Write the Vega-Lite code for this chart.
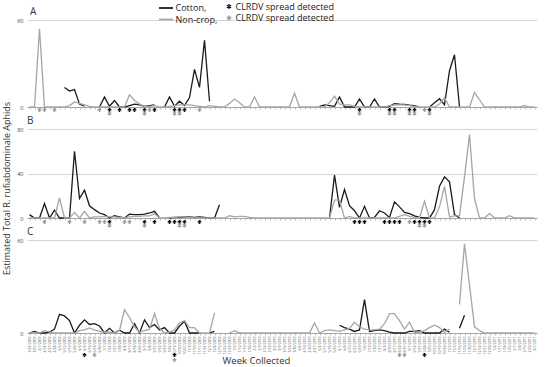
{
"$schema": "https://vega.github.io/schema/vega-lite/v6.json",
"padding": {"left": 2, "top": 2, "right": 5, "bottom": 2},
"bounds": "flush",
"spacing": 22,
"config": {
  "font": "Open Sans",
  "view": {"stroke": null},
  "axisY": {"grid": true, "gridColor": "#d4d4d4", "gridWidth": 1, "gridOpacity": 1, "domain": false, "ticks": false, "labelFontSize": 5.5, "labelColor": "#444", "labelPadding": 4, "labelOverlap": false, "labelBound": false, "labelFlush": false},
  "axisX": {"grid": false, "domainColor": "#9a9a9a", "domainWidth": 0.8, "tickColor": "#9a9a9a", "tickSize": 2, "tickWidth": 0.6},
  "legend": {"padding": 0, "labelFont": "Open Sans", "labelFontSize": 9, "labelColor": "#222"},
  "title": {"anchor": "start", "frame": "group", "fontSize": 10, "fontWeight": "normal", "color": "#333", "offset": 1}
},
"datasets": {
"weeks": [
{"w":"2009-03-24","An":0,"Bc":3,"Bn":0,"Cc":0,"Cn":0},
{"w":"2009-03-31","An":0,"Bc":0,"Bn":0,"Cc":1,"Cn":0},
{"w":"2009-04-07","An":54,"Bc":0,"Bn":0,"Cc":0,"Cn":0},
{"w":"2009-04-14","An":0,"Bc":13,"Bn":0,"Cc":0,"Cn":1.5},
{"w":"2009-04-21","An":0,"Bc":0,"Bn":0,"Cc":0.5,"Cn":0.5},
{"w":"2009-04-28","An":0,"Bc":7,"Bn":0,"Cc":2.5,"Cn":0},
{"w":"2009-05-05","An":0,"Bc":0,"Bn":18,"Cc":12,"Cn":0},
{"w":"2009-05-12","Ac":13.5,"An":0,"Bc":0,"Bn":0,"Cc":11,"Cn":0},
{"w":"2009-05-19","Ac":11,"An":1,"Bc":0,"Bn":0,"Cc":8,"Cn":0},
{"w":"2009-05-26","Ac":12,"An":3.5,"Bc":60,"Bn":5,"Cc":0,"Cn":0},
{"w":"2009-06-02","Ac":2,"An":2.5,"Bc":17.5,"Bn":0,"Cc":5,"Cn":1.5},
{"w":"2009-06-09","Ac":0.5,"An":1.5,"Bc":25,"Bn":6,"Cc":8.5,"Cn":2},
{"w":"2009-06-16","An":0.5,"Bc":11,"Bn":0,"Cc":5.5,"Cn":3.3},
{"w":"2009-06-23","An":0,"Bc":7.5,"Bn":1,"Cc":6,"Cn":2},
{"w":"2009-06-30","Ac":0,"An":0,"Bc":4.5,"Bn":1,"Cc":4.5,"Cn":1},
{"w":"2009-07-07","Ac":7,"An":0,"Bc":3,"Bn":1.5,"Cc":0,"Cn":0.5},
{"w":"2009-07-14","Ac":0.5,"An":0,"Bc":0,"Bn":1,"Cc":3,"Cn":0.5},
{"w":"2009-07-21","Ac":4.5,"An":0,"Bc":2,"Bn":1,"Cc":0,"Cn":0},
{"w":"2009-07-28","Ac":0,"An":0,"Bc":1,"Bn":0.5,"Cc":1.8,"Cn":1.5},
{"w":"2009-08-04","Ac":0,"An":0,"Bc":0,"Bn":0,"Cc":0,"Cn":15},
{"w":"2009-08-11","Ac":1,"An":8.5,"Bc":3.5,"Bn":1,"Cc":0,"Cn":10},
{"w":"2009-08-18","Ac":2,"An":4.5,"Bc":3,"Bn":1.5,"Cc":6,"Cn":4},
{"w":"2009-08-25","Ac":1.5,"An":2,"Bc":3,"Bn":1.5,"Cc":0,"Cn":0.5},
{"w":"2009-09-01","Ac":0.5,"An":0.5,"Bc":3.5,"Bn":2,"Cc":8.5,"Cn":1.5},
{"w":"2009-09-08","Ac":1,"An":0.5,"Bc":4.5,"Bn":2,"Cc":3.5,"Cn":2.5},
{"w":"2009-09-15","Ac":1.5,"An":1,"Bc":6,"Bn":4,"Cc":5.5,"Cn":12.5},
{"w":"2009-09-22","An":0,"Bc":0,"Bn":0,"Cc":2,"Cn":3},
{"w":"2009-09-29","Ac":0,"An":0,"Bn":0,"Cc":3.5,"Cn":0},
{"w":"2009-10-06","Ac":7,"An":0.5,"Bc":0,"Bn":0.5,"Cc":0,"Cn":0.5},
{"w":"2009-10-13","Ac":0.5,"An":1,"Bc":0.5,"Bn":0.5,"Cc":0,"Cn":2},
{"w":"2009-10-20","Ac":4,"An":1.5,"Bc":0.5,"Bn":1,"Cc":4.5,"Cn":6.5},
{"w":"2009-10-27","Ac":1,"An":1.5,"Bc":1,"Bn":1,"Cc":7.5,"Cn":8},
{"w":"2009-11-03","Ac":6.5,"An":1.5,"Bc":1,"Bn":0.5,"Cc":0,"Cn":3.5},
{"w":"2009-11-10","Ac":26,"An":1,"Bc":0.5,"Bn":0,"Cc":0,"Cn":3.5},
{"w":"2009-11-17","Ac":13.5,"An":0.5,"Bc":1,"Bn":0,"Cc":0,"Cn":0},
{"w":"2009-11-24","Ac":46,"An":0,"Bc":0.5,"Bn":0,"Cn":0},
{"w":"2009-12-01","Ac":4,"An":1,"Bc":0,"Bn":0,"Cc":0,"Cn":0},
{"w":"2009-12-08","An":0.5,"Bc":0,"Bn":0,"Cc":1,"Cn":13},
{"w":"2009-12-15","An":0,"Bc":12,"Bn":0},
{"w":"2009-12-22","An":0,"Bn":0},
{"w":"2009-12-29","An":2.5,"Bn":2,"Cn":0},
{"w":"2010-01-05","An":5.5,"Bn":1,"Cn":1.5},
{"w":"2010-01-12","An":3,"Bn":1.5,"Cn":0},
{"w":"2010-01-19","An":0,"Bn":1.5,"Cn":0},
{"w":"2010-01-26","An":0,"Bn":0.5,"Cn":0},
{"w":"2010-02-02","An":7,"Bn":0,"Cn":0},
{"w":"2010-02-09","An":0,"Bn":0,"Cn":0},
{"w":"2010-02-16","An":0,"Bn":0,"Cn":0},
{"w":"2010-02-23","An":0,"Bn":0,"Cn":0},
{"w":"2010-03-02","An":0,"Bn":0,"Cn":0},
{"w":"2010-03-09","An":0,"Bn":0,"Cn":0},
{"w":"2010-03-16","An":0,"Bn":0,"Cn":0},
{"w":"2010-03-23","An":0,"Bn":0,"Cn":0},
{"w":"2010-03-30","An":9.5,"Bn":0,"Cn":0},
{"w":"2010-04-06","An":0,"Bn":0,"Cn":0},
{"w":"2010-04-13","An":0,"Bn":0,"Cn":0},
{"w":"2010-04-20","An":0,"Bn":0,"Cn":0},
{"w":"2010-04-27","An":0,"Bn":0,"Cn":6.5},
{"w":"2010-05-04","Ac":0.5,"An":0,"Bn":0,"Cn":0},
{"w":"2010-05-11","Ac":1.5,"An":0,"Bn":0,"Cn":1.5},
{"w":"2010-05-18","Ac":1,"An":3,"Bc":0,"Bn":0,"Cn":2},
{"w":"2010-05-25","Ac":0.5,"An":7.5,"Bc":38.5,"Bn":16,"Cn":1.5},
{"w":"2010-06-01","Ac":7,"An":2,"Bc":9.5,"Bn":16,"Cc":5,"Cn":1},
{"w":"2010-06-08","Ac":0,"An":1.5,"Bc":25.5,"Bn":0,"Cc":3.5,"Cn":2},
{"w":"2010-06-15","Ac":0,"An":1.5,"Bc":11,"Bn":1.5,"Cc":2.5,"Cn":3},
{"w":"2010-06-22","Ac":0,"An":0.5,"Bc":6.5,"Bn":0,"Cc":1,"Cn":7},
{"w":"2010-06-29","Ac":5.5,"An":0,"Bc":0,"Bn":0,"Cc":2,"Cn":4},
{"w":"2010-07-06","Ac":0,"An":0,"Bc":10.5,"Bn":0,"Cc":21.5,"Cn":2.5},
{"w":"2010-07-13","Ac":0,"An":0,"Bc":0,"Bn":0,"Cc":1,"Cn":2},
{"w":"2010-07-20","Ac":5.5,"An":0,"Bc":0.5,"Bn":0,"Cc":1.5,"Cn":2},
{"w":"2010-07-27","Ac":0,"An":0,"Bc":6.5,"Bn":0,"Cc":2,"Cn":2.5},
{"w":"2010-08-03","Ac":0,"An":0,"Bc":4.5,"Bn":0,"Cc":1.5,"Cn":6},
{"w":"2010-08-10","Ac":0.5,"An":1,"Bc":0.5,"Bn":0,"Cc":0.5,"Cn":12.5},
{"w":"2010-08-17","Ac":2.3,"An":1.5,"Bc":14.5,"Bn":0,"Cc":0,"Cn":12.5},
{"w":"2010-08-24","Ac":2,"An":1.5,"Bc":10,"Bn":1.5,"Cc":0,"Cn":8},
{"w":"2010-08-31","Ac":1.8,"An":1.5,"Bc":5,"Bn":3,"Cc":0,"Cn":2.5},
{"w":"2010-09-07","Ac":1.2,"An":1,"Bc":4,"Bn":1.5,"Cc":1,"Cn":7},
{"w":"2010-09-14","Ac":1,"An":0.5,"Bc":2,"Bn":0.5,"Cc":1,"Cn":0.5},
{"w":"2010-09-21","Ac":0,"An":0,"Bc":0.5,"Bn":0,"Cc":1.5,"Cn":0.5},
{"w":"2010-09-28","An":0,"Bc":0,"Bn":15,"Cc":0,"Cn":1.5},
{"w":"2010-10-05","Ac":0,"An":0,"Bc":0,"Bn":0,"Cc":0,"Cn":3.5},
{"w":"2010-10-12","Ac":3,"An":0,"Bc":7.5,"Bn":0,"Cc":0,"Cn":5},
{"w":"2010-10-19","Ac":5.7,"An":2,"Bc":28.5,"Bn":10,"Cc":0,"Cn":3.5},
{"w":"2010-10-26","Ac":1.5,"An":6.5,"Bc":37,"Bn":28.5,"Cc":2.5,"Cn":0.5},
{"w":"2010-11-02","Ac":25,"An":0,"Bc":32.5,"Bn":1,"Cc":0.5,"Cn":2.5},
{"w":"2010-11-09","Ac":36,"An":0,"Bc":3,"Bn":2},
{"w":"2010-11-16","Ac":0,"An":0,"Bc":0,"Bn":2,"Cc":3,"Cn":18.5},
{"w":"2010-11-23","An":0,"Bn":37,"Cc":11.5,"Cn":57.5},
{"w":"2010-11-30","An":0,"Bn":75,"Cn":31},
{"w":"2010-12-07","An":10,"Bn":17.5,"Cn":4},
{"w":"2010-12-14","An":5,"Bn":0,"Cn":1.5},
{"w":"2010-12-21","An":0,"Bn":0,"Cn":0},
{"w":"2010-12-28","An":0,"Bn":4,"Cn":0},
{"w":"2011-01-04","An":0,"Bn":0,"Cn":0},
{"w":"2011-01-11","An":0,"Bn":0,"Cn":0},
{"w":"2011-01-18","An":0,"Bn":0,"Cn":0},
{"w":"2011-01-25","An":0,"Bn":2,"Cn":0},
{"w":"2011-02-01","An":0,"Bn":0,"Cn":0},
{"w":"2011-02-08","An":0,"Bn":0,"Cn":0},
{"w":"2011-02-15","An":1,"Bn":0,"Cn":0},
{"w":"2011-02-22","An":0,"Bn":0,"Cn":0},
{"w":"2011-03-01","An":0,"Bn":0,"Cn":0}
],
"marks": [
{"p":"A","s":"c","w":"2009-07-14"},{"p":"A","s":"c","w":"2009-07-28"},{"p":"A","s":"c","w":"2009-08-11"},{"p":"A","s":"c","w":"2009-08-18"},{"p":"A","s":"c","w":"2009-09-01"},{"p":"A","s":"c","w":"2009-09-15"},{"p":"A","s":"c","w":"2009-10-13"},{"p":"A","s":"c","w":"2009-10-20"},{"p":"A","s":"c","w":"2009-10-27"},{"p":"A","s":"c","w":"2010-06-29"},{"p":"A","s":"c","w":"2010-08-10"},{"p":"A","s":"c","w":"2010-08-17"},{"p":"A","s":"c","w":"2010-09-07"},{"p":"A","s":"c","w":"2010-09-14"},{"p":"A","s":"c","w":"2010-10-05"},
{"p":"A","s":"n","w":"2009-04-07"},{"p":"A","s":"n","w":"2009-04-14"},{"p":"A","s":"n","w":"2009-04-28"},{"p":"A","s":"n","w":"2009-06-30"},{"p":"A","s":"n","w":"2009-07-14"},{"p":"A","s":"n","w":"2009-09-01"},{"p":"A","s":"n","w":"2009-09-08"},{"p":"A","s":"n","w":"2009-10-13"},{"p":"A","s":"n","w":"2009-10-20"},{"p":"A","s":"n","w":"2009-11-17"},{"p":"A","s":"n","w":"2010-06-29"},{"p":"A","s":"n","w":"2010-08-10"},{"p":"A","s":"n","w":"2010-08-17"},{"p":"A","s":"n","w":"2010-09-07"},{"p":"A","s":"n","w":"2010-09-14"},{"p":"A","s":"n","w":"2010-09-28"},{"p":"A","s":"n","w":"2010-10-05"},
{"p":"B","s":"c","w":"2009-07-14"},{"p":"B","s":"c","w":"2009-09-01"},{"p":"B","s":"c","w":"2009-09-15"},{"p":"B","s":"c","w":"2009-10-06"},{"p":"B","s":"c","w":"2009-10-13"},{"p":"B","s":"c","w":"2009-10-20"},{"p":"B","s":"c","w":"2009-10-27"},{"p":"B","s":"c","w":"2009-11-17"},{"p":"B","s":"c","w":"2010-06-22"},{"p":"B","s":"c","w":"2010-06-29"},{"p":"B","s":"c","w":"2010-07-06"},{"p":"B","s":"c","w":"2010-08-03"},{"p":"B","s":"c","w":"2010-08-10"},{"p":"B","s":"c","w":"2010-08-17"},{"p":"B","s":"c","w":"2010-08-24"},{"p":"B","s":"c","w":"2010-09-14"},{"p":"B","s":"c","w":"2010-09-21"},{"p":"B","s":"c","w":"2010-09-28"},{"p":"B","s":"c","w":"2010-10-05"},
{"p":"B","s":"n","w":"2009-04-14"},{"p":"B","s":"n","w":"2009-05-19"},{"p":"B","s":"n","w":"2009-06-09"},{"p":"B","s":"n","w":"2009-06-30"},{"p":"B","s":"n","w":"2009-07-07"},{"p":"B","s":"n","w":"2009-07-14"},{"p":"B","s":"n","w":"2009-08-04"},{"p":"B","s":"n","w":"2009-08-11"},{"p":"B","s":"n","w":"2009-09-01"},{"p":"B","s":"n","w":"2009-10-20"},{"p":"B","s":"n","w":"2009-10-27"},{"p":"B","s":"n","w":"2010-09-07"},{"p":"B","s":"n","w":"2010-09-21"},{"p":"B","s":"n","w":"2010-09-28"},
{"p":"C","s":"c","w":"2009-06-09"},{"p":"C","s":"c","w":"2009-10-13"},{"p":"C","s":"c","w":"2010-09-28"},
{"p":"C","s":"n","w":"2009-06-23"},{"p":"C","s":"n","w":"2009-10-13"},{"p":"C","s":"n","w":"2010-08-24"},{"p":"C","s":"n","w":"2010-08-31"}
]
},
"vconcat": [
{
  "width": 510, "height": 87,
  "title": {"text": "A", "dx": 3},
  "layer": [
    {"data": {"name": "weeks"}, "transform": [{"fold": ["Ac", "An"], "as": ["k", "v"]}],
     "mark": {"type": "line", "strokeWidth": 1.3},
     "encoding": {
       "x": {"field": "w", "type": "ordinal", "axis": {"labels": false, "title": null}},
       "y": {"field": "v", "type": "quantitative", "scale": {"domain": [0, 60], "nice": false}, "axis": {"values": [0,10,20,30,40,50,60], "grid": true, "labelOverlap": false, "title": "Estimated Total R. rufiabdominale Aphids", "titleFontSize": 9, "titleFontWeight": "normal", "titleColor": "#333", "titleX": -21, "titleY": 168, "titleBaseline": "middle"}},
       "color": {"field": "k", "type": "nominal",
         "scale": {"domain": ["Ac","An","Bc","Bn","Cc","Cn"], "range": ["#1a1a1a","#a6a6a6","#1a1a1a","#a6a6a6","#1a1a1a","#a6a6a6"]},
         "legend": {"orient": "none", "legendX": 133, "legendY": -18, "title": null, "values": ["Ac","An"], "labelExpr": "datum.value == 'Ac' ? 'Cotton,' : 'Non-crop,'", "symbolType": "M-1.4,0L1.4,0", "symbolSize": 100, "symbolStrokeWidth": 1.8, "labelOffset": 3.5, "rowPadding": 0.5}}
     }},
    {"data": {"name": "marks"}, "transform": [{"filter": "datum.p == 'A'"}, {"window": [{"op": "row_number", "as": "r"}], "groupby": ["w"], "sort": [{"field": "s"}]}, {"filter": "datum.r == 1"}],
     "mark": {"type": "point", "shape": "M0,-1L0,1M-0.87,-0.5L0.87,0.5M-0.87,0.5L0.87,-0.5", "size": 16, "strokeWidth": 1.1, "filled": false, "opacity": 1, "yOffset": 3},
     "encoding": {
       "x": {"field": "w", "type": "ordinal"},
       "y": {"datum": 0, "type": "quantitative"},
       "stroke": {"field": "s", "type": "nominal", "scale": {"domain": ["c","n"], "range": ["#111111","#9a9a9a"]},
         "legend": {"orient": "none", "legendX": 197.5, "legendY": -18, "title": null, "values": ["c","n"], "labelExpr": "'CLRDV spread detected'", "symbolType": "M0,-1L0,1M-0.87,-0.5L0.87,0.5M-0.87,0.5L0.87,-0.5", "symbolSize": 25, "symbolStrokeWidth": 1.2, "labelOffset": 2, "rowPadding": 0.5}}
     }},
    {"data": {"name": "marks"}, "transform": [{"filter": "datum.p == 'A'"}, {"window": [{"op": "row_number", "as": "r"}], "groupby": ["w"], "sort": [{"field": "s"}]}, {"filter": "datum.r == 2"}],
     "mark": {"type": "point", "shape": "M0,-1L0,1M-0.87,-0.5L0.87,0.5M-0.87,0.5L0.87,-0.5", "size": 16, "strokeWidth": 1.1, "filled": false, "opacity": 1, "yOffset": 6.5},
     "encoding": {
       "x": {"field": "w", "type": "ordinal"},
       "y": {"datum": 0, "type": "quantitative"},
       "stroke": {"field": "s", "type": "nominal"}
     }}
  ]
},
{
  "width": 510, "height": 89,
  "title": {"text": "B", "dx": 0},
  "layer": [
    {"data": {"name": "weeks"}, "transform": [{"fold": ["Bc", "Bn"], "as": ["k", "v"]}],
     "mark": {"type": "line", "strokeWidth": 1.3},
     "encoding": {
       "x": {"field": "w", "type": "ordinal", "axis": {"labels": false, "title": null}},
       "y": {"field": "v", "type": "quantitative", "scale": {"domain": [0, 80], "nice": false}, "axis": {"values": [0,10,20,30,40,50,60,70,80], "grid": true, "labelOverlap": false, "title": null}},
       "color": {"field": "k", "type": "nominal"}
     }},
    {"data": {"name": "marks"}, "transform": [{"filter": "datum.p == 'B'"}, {"window": [{"op": "row_number", "as": "r"}], "groupby": ["w"], "sort": [{"field": "s"}]}, {"filter": "datum.r == 1"}],
     "mark": {"type": "point", "shape": "M0,-1L0,1M-0.87,-0.5L0.87,0.5M-0.87,0.5L0.87,-0.5", "size": 16, "strokeWidth": 1.1, "filled": false, "opacity": 1, "yOffset": 4},
     "encoding": {"x": {"field": "w", "type": "ordinal"}, "y": {"datum": 0, "type": "quantitative"}, "stroke": {"field": "s", "type": "nominal"}}},
    {"data": {"name": "marks"}, "transform": [{"filter": "datum.p == 'B'"}, {"window": [{"op": "row_number", "as": "r"}], "groupby": ["w"], "sort": [{"field": "s"}]}, {"filter": "datum.r == 2"}],
     "mark": {"type": "point", "shape": "M0,-1L0,1M-0.87,-0.5L0.87,0.5M-0.87,0.5L0.87,-0.5", "size": 16, "strokeWidth": 1.1, "filled": false, "opacity": 1, "yOffset": 7.5},
     "encoding": {"x": {"field": "w", "type": "ordinal"}, "y": {"datum": 0, "type": "quantitative"}, "stroke": {"field": "s", "type": "nominal"}}}
  ]
},
{
  "width": 510, "height": 93,
  "title": {"text": "C", "dx": 0},
  "layer": [
    {"data": {"name": "weeks"}, "transform": [{"fold": ["Cc", "Cn"], "as": ["k", "v"]}],
     "mark": {"type": "line", "strokeWidth": 1.3},
     "encoding": {
       "x": {"field": "w", "type": "ordinal", "axis": {"labels": true, "labelAngle": 270, "labelFontSize": 3.4, "labelColor": "#555", "labelOverlap": false, "labelPadding": 1, "labelExpr": "utcFormat(toDate(datum.value), '%-m/%-d/%Y')", "title": "Week Collected", "titleFontSize": 9.5, "titleFontWeight": "normal", "titleColor": "#333", "titlePadding": 2, "titleX": 229}},
       "y": {"field": "v", "type": "quantitative", "scale": {"domain": [0, 60], "nice": false}, "axis": {"values": [0,10,20,30,40,50,60], "grid": true, "labelOverlap": false, "title": null}},
       "color": {"field": "k", "type": "nominal"}
     }},
    {"data": {"name": "marks"}, "transform": [{"filter": "datum.p == 'C'"}, {"window": [{"op": "row_number", "as": "r"}], "groupby": ["w"], "sort": [{"field": "s"}]}, {"filter": "datum.r == 1"}],
     "mark": {"type": "point", "shape": "M0,-1L0,1M-0.87,-0.5L0.87,0.5M-0.87,0.5L0.87,-0.5", "size": 16, "strokeWidth": 1.1, "filled": false, "opacity": 1, "yOffset": 22},
     "encoding": {"x": {"field": "w", "type": "ordinal"}, "y": {"datum": 0, "type": "quantitative"}, "stroke": {"field": "s", "type": "nominal"}}},
    {"data": {"name": "marks"}, "transform": [{"filter": "datum.p == 'C'"}, {"window": [{"op": "row_number", "as": "r"}], "groupby": ["w"], "sort": [{"field": "s"}]}, {"filter": "datum.r == 2"}],
     "mark": {"type": "point", "shape": "M0,-1L0,1M-0.87,-0.5L0.87,0.5M-0.87,0.5L0.87,-0.5", "size": 16, "strokeWidth": 1.1, "filled": false, "opacity": 1, "yOffset": 27},
     "encoding": {"x": {"field": "w", "type": "ordinal"}, "y": {"datum": 0, "type": "quantitative"}, "stroke": {"field": "s", "type": "nominal"}}}
  ]
}
]
}
